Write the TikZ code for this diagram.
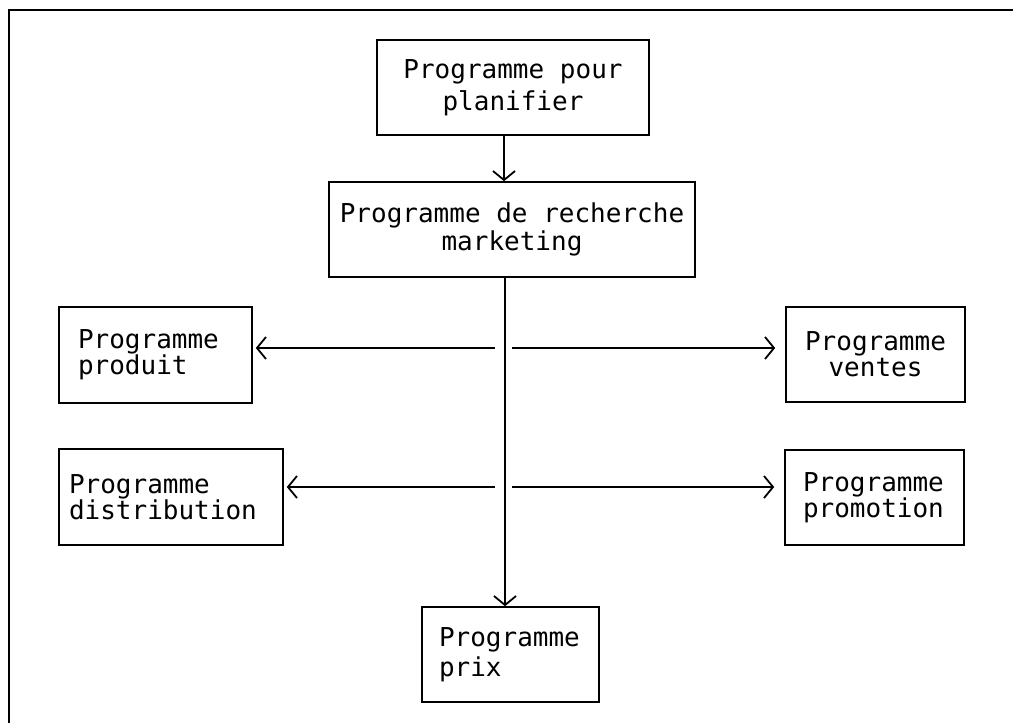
\documentclass[tikz,border=0pt]{standalone}
\usepackage{fontspec}
\newfontfamily\monotxt{DejaVu Sans Mono}[WordSpace={1,0,0}]
\usetikzlibrary{arrows.meta}
\newcommand\msp{\hspace*{0.6021em}}
\tikzset{
  boxnode/.style={draw, line width=1.6pt, minimum height=95pt, inner ysep=0pt},
  lines/.style={font=\monotxt\fontsize{26}{#1}\selectfont},
  conn/.style={line width=1.8pt, -{Straight Barb[length=9pt,width=22pt]}},
  frameline/.style={line width=2.4pt}
}
\begin{document}
\begin{tikzpicture}[x=1pt,y=-1pt]
\useasboundingbox (0,0) rectangle (1013,726);
% frame
\coordinate (fTR) at (1013,10);
\coordinate (fTL) at (9,10);
\coordinate (fBL) at (9,723);
\draw[frameline] (fTR) -- (fTL) -- (fBL);
% boxes
\node[boxnode, lines=32, text width=252pt, inner xsep=10pt, align=center] (plan) at (513,87.5) {Programme\msp{}pour\\planifier};
\node[boxnode, lines=28, text width=346pt, inner xsep=10pt, align=center] (rech) at (512,229.5) {Programme\msp{}de\msp{}recherche\\marketing};
\node[boxnode, lines=26, text width=155pt, inner xsep=19pt, align=left, minimum height=96pt] (prod) at (155.5,355) {Programme\\produit};
\node[boxnode, lines=26, text width=204pt, inner xsep=10pt, align=left, minimum height=96pt] (dist) at (171,497) {Programme\\distribution};
\node[boxnode, lines=26, text width=159pt, inner xsep=10pt, align=center] (vent) at (875.5,354.5) {Programme\\ventes};
\node[boxnode, lines=26, text width=143pt, inner xsep=18pt, align=left] (promo) at (874.5,497.5) {Programme\\promotion};
\node[boxnode, lines=30, text width=143pt, inner xsep=17pt, align=left] (prix) at (510.5,654.5) {Programme\\prix};
% connector coordinates
\coordinate (topx) at (504,0);
\coordinate (spine) at (505,0);
\coordinate (h1l) at (495,348);
\coordinate (h1r) at (512,348);
\coordinate (h2l) at (495,487);
\coordinate (h2r) at (512,487);
% connectors
\draw[conn] (plan.south -| topx) -- (rech.north -| topx);
\draw[conn] (rech.south -| spine) -- (prix.north -| spine);
\draw[conn, shorten >=3pt] (h1l) -- (prod.east |- h1l);
\draw[conn, shorten >=10pt] (h1r) -- (vent.west |- h1r);
\draw[conn, shorten >=3pt] (h2l) -- (dist.east |- h2l);
\draw[conn, shorten >=10pt] (h2r) -- (promo.west |- h2r);
\end{tikzpicture}
\end{document}
